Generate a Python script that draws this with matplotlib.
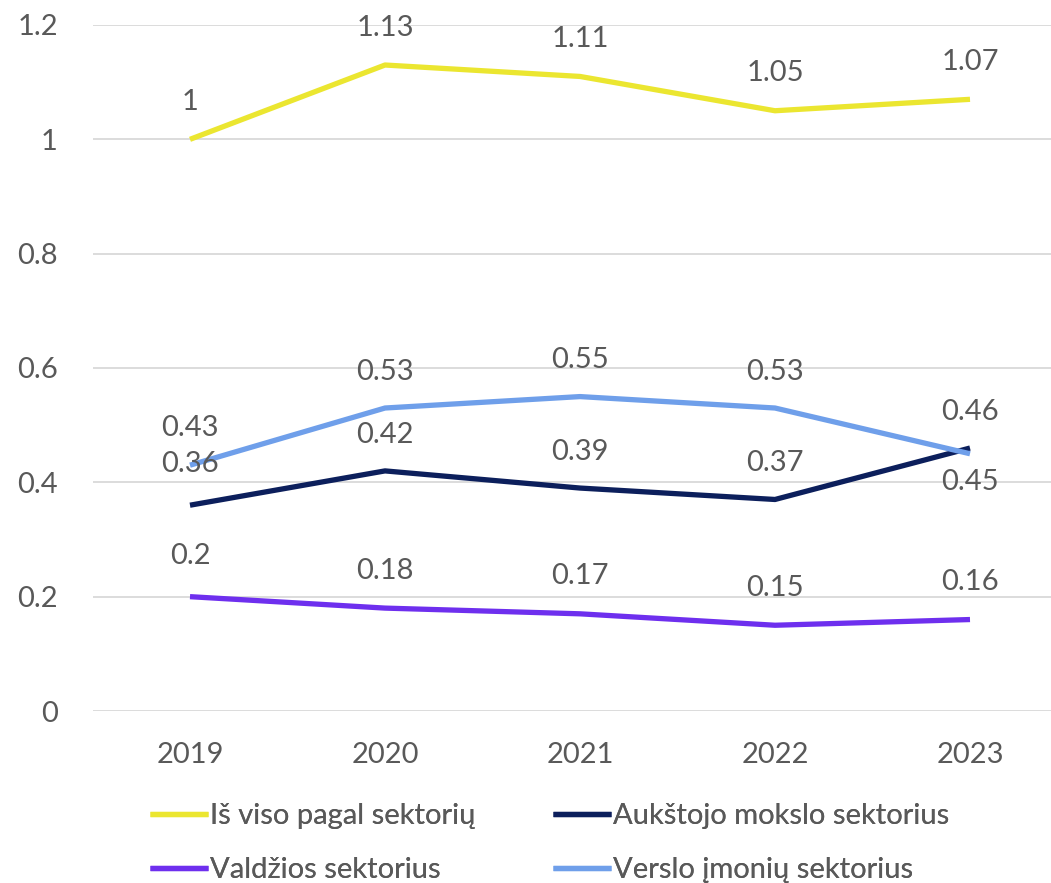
import matplotlib
matplotlib.use("Agg")
import matplotlib.pyplot as plt

years = ["2019", "2020", "2021", "2022", "2023"]
total = [1.00, 1.13, 1.11, 1.05, 1.07]
higher_ed = [0.36, 0.42, 0.39, 0.37, 0.46]
government = [0.20, 0.18, 0.17, 0.15, 0.16]
business = [0.43, 0.53, 0.55, 0.53, 0.45]
yticks = [0, 0.2, 0.4, 0.6, 0.8, 1.0, 1.2]
ytick_labels = ["0", "0.2", "0.4", "0.6", "0.8", "1", "1.2"]

series = [
    ("Iš viso pagal sektorių", total, "#EBE630"),
    ("Aukštojo mokslo sektorius", higher_ed, "#0C1F5C"),
    ("Valdžios sektorius", government, "#6E2FEE"),
    ("Verslo įmonių sektorius", business, "#6F9FEA"),
]
# label offsets in points (positive = above)
offsets = {
    "Iš viso pagal sektorių": [27, 27, 27, 27, 27],
    "Aukštojo mokslo sektorius": [30, 26, 26, 26, 26],
    "Valdžios sektorius": [29, 27, 27, 27, 27],
    "Verslo įmonių sektorius": [27, 26, 26, 26, -20],
}

plt.rcParams['font.family'] = ['Lato', 'DejaVu Sans']
W, H = 1051, 883
fig = plt.figure(figsize=(W/100, H/100), dpi=100)
left = 92.5 / W
right = 1067.5 / W
bottom = (H - 711) / H
top = (H - 25) / H
ax = fig.add_axes([left, bottom, right - left, top - bottom])

x = list(range(len(years)))
txtc = "#595959"
fs = 21
handles = {}
for name, vals, col in series:
    h, = ax.plot(x, vals, color=col, lw=3.8, solid_capstyle='butt', label=name)
    handles[name] = h
    for xi, v, off in zip(x, vals, offsets[name]):
        lab = f"{v:g}"
        ax.annotate(lab, (xi, v), xytext=(0, off), textcoords='offset points',
                    ha='center', va='center', fontsize=fs, color=txtc)

ax.set_xlim(-0.5, len(years) - 0.5)
ax.set_ylim(0, 1.2)
ax.set_yticks(yticks)
ax.set_yticklabels(ytick_labels)
ax.set_xticks(x)
ax.set_xticklabels(years)
ax.tick_params(length=0, labelsize=fs, labelcolor=txtc)
ax.tick_params(axis='y', pad=25)
ax.tick_params(axis='x', pad=22)
for s in ax.spines.values():
    s.set_visible(False)
ax.yaxis.grid(True, color="#D9D9D9", lw=1.3)
ax.set_axisbelow(True)

cols = [
    (150, ["Iš viso pagal sektorių", "Valdžios sektorius"]),
    (553, ["Aukštojo mokslo sektorius", "Verslo įmonių sektorius"]),
]
for xpx, names in cols:
    leg = fig.legend(handles=[handles[n] for n in names], labels=names,
                     loc='center left', bbox_to_anchor=(xpx / W, 1 - 843 / H),
                     frameon=False, fontsize=fs, labelcolor=txtc,
                     handlelength=2.0, handletextpad=0.05, borderpad=0,
                     borderaxespad=0, labelspacing=0.95)
    fig.add_artist(leg)

fig.savefig("out.png", dpi=100)
